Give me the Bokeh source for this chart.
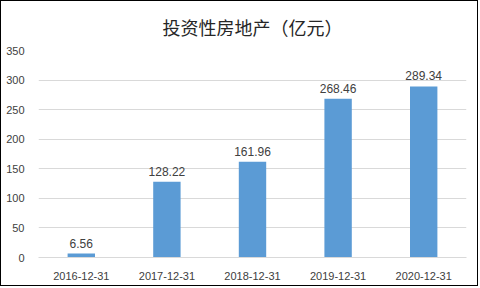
from bokeh.plotting import figure
from bokeh.models import ColumnDataSource, FactorRange, Range1d, SingleIntervalTicker, LabelSet
from bokeh.core.properties import value
from bokeh.embed import file_html
from bokeh.resources import INLINE

categories = ["2016-12-31", "2017-12-31", "2018-12-31", "2019-12-31", "2020-12-31"]
values = [6.56, 128.22, 161.96, 268.46, 289.34]
labels = ["6.56", "128.22", "161.96", "268.46", "289.34"]
title_text = "投资性房地产（亿元）"

src = ColumnDataSource(dict(cat=categories, val=values, lab=labels))

p = figure(width=478, height=286, x_range=FactorRange(*categories), y_range=Range1d(0, 350),
           output_backend="svg", toolbar_location=None, title=title_text,
           min_border_left=37, min_border_right=13, min_border_top=0, min_border_bottom=30,
           styles={"border": "1px solid #000000"})
p.title.align = "center"
p.title.text_font = "Noto Sans CJK SC"
p.title.text_font_size = "18px"
p.title.text_font_style = "normal"
p.title.text_color = "#262626"
p.title.offset = -12
p.title.standoff = 21

p.vbar(x="cat", top="val", width=0.32, source=src, fill_color="#5B9BD5", line_color=None)

p.add_layout(LabelSet(x="cat", y="val", text="lab", source=src, text_align="center",
                      text_baseline="bottom", y_offset=6, text_font_size=value("12px"),
                      text_font=value("Liberation Sans"), text_color="#404040"))

p.yaxis.ticker = SingleIntervalTicker(interval=50)
p.yaxis.axis_line_color = None
p.yaxis.major_tick_line_color = None
p.yaxis.minor_tick_line_color = None
p.xaxis.axis_line_color = "#D9D9D9"
p.xaxis.major_tick_line_color = None
p.xaxis.minor_tick_line_color = None
for ax in (p.xaxis, p.yaxis):
    ax.major_label_text_font = "Liberation Sans"
    ax.major_label_text_font_size = "11px"
    ax.major_label_text_color = "#404040"
p.yaxis.major_label_standoff = 8
p.xaxis.major_label_standoff = 8
p.xgrid.grid_line_color = None
p.ygrid.grid_line_color = "#D9D9D9"
p.outline_line_color = None
p.x_range.range_padding = 0
p.x_range.group_padding = 0

open("out.html", "w").write(file_html(p, INLINE))
